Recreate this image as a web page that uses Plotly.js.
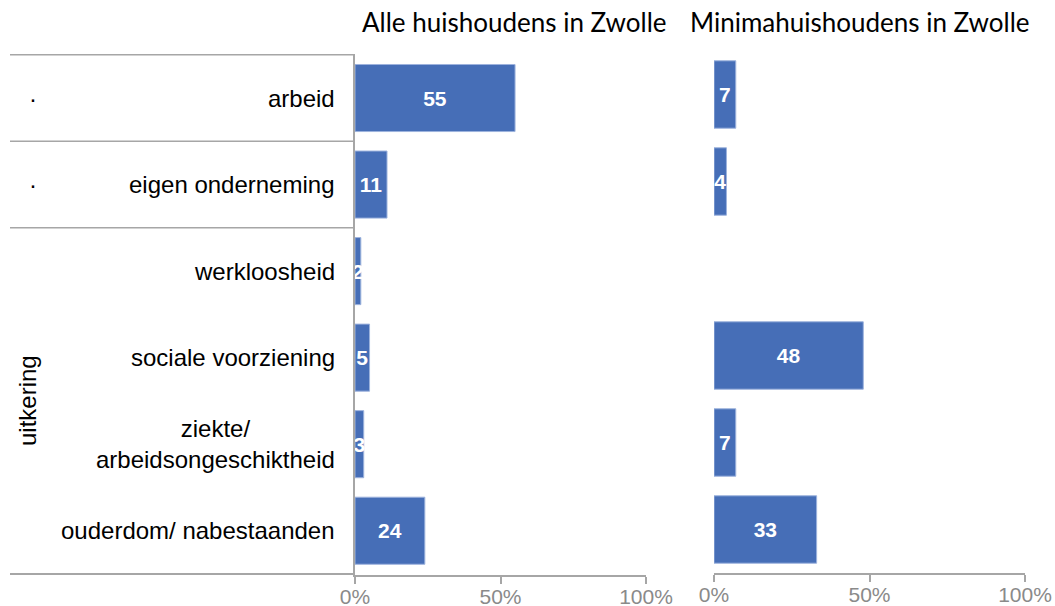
<!DOCTYPE html>
<html>
<head>
<meta charset="utf-8">
<script src="https://cdn.plot.ly/plotly-3.0.1.min.js"></script>
<style>html,body{margin:0;padding:0;background:#fff;}#chart{width:1055px;height:606px;}</style>
</head>
<body>
<div id="chart"></div>
<script>
var categories = ["arbeid", "eigen onderneming", "werkloosheid", "sociale voorziening", "ziekte/ arbeidsongeschiktheid", "ouderdom/ nabestaanden"];
var categoryLabels = ["arbeid", "eigen onderneming", "werkloosheid", "sociale voorziening", "ziekte/<br>arbeidsongeschiktheid", "ouderdom/ nabestaanden"];
var groupLabels = ["·", "·", "uitkering"];
var alleHuishoudens = [55, 11, 2, 5, 3, 24];
var minimaHuishoudens = [7, 4, null, 48, 7, 33];
var panelTitles = ["Alle huishoudens in Zwolle", "Minimahuishoudens in Zwolle"];
var tickVals = [0, 50, 100];
var tickText = ["0%", "50%", "100%"];

var W = 1055, H = 606;
function px(x) { return x / W; }
function py(y) { return 1 - y / H; }

var barColor = "#466EB7";
var lineColor = "#A6A6A6";

var labelFont = {family: "Liberation Sans, Arial, sans-serif", size: 24, color: "#000"};
var valueFont = {family: "Liberation Sans, Arial, sans-serif", size: 21, color: "#fff", weight: "bold"};

function txt(arr) { return arr.map(function (v) { return v === null ? "" : "<b>" + v + "</b>"; }); }

var traces = [
  {
    type: "bar", orientation: "h", x: alleHuishoudens, y: categories,
    xaxis: "x", yaxis: "y", marker: {color: barColor, line: {color: "#9DB3DD", width: 1}},
    text: txt(alleHuishoudens), textposition: "inside", insidetextanchor: "middle",
    constraintext: "none", textfont: valueFont, hoverinfo: "x+y"
  },
  {
    type: "bar", orientation: "h", x: minimaHuishoudens, y: categories,
    xaxis: "x2", yaxis: "y2", marker: {color: barColor, line: {color: "#9DB3DD", width: 1}},
    text: txt(minimaHuishoudens), textposition: "inside", insidetextanchor: "middle",
    constraintext: "none", textfont: valueFont, hoverinfo: "x+y"
  }
];

var xaxisCommon = {
  range: [0, 100], tickvals: tickVals, ticktext: tickText,
  showgrid: false, zeroline: false, showline: true, linecolor: lineColor, linewidth: 2,
  ticks: "outside", ticklen: 7, tickcolor: lineColor, tickwidth: 2,
  ticklabelstandoff: -5,
  tickfont: {family: "Liberation Sans, Arial, sans-serif", size: 21, color: "#8A8A8A"},
  fixedrange: true
};

var layout = {
  width: W, height: H,
  margin: {l: 0, r: 0, t: 0, b: 0},
  paper_bgcolor: "#fff", plot_bgcolor: "rgba(0,0,0,0)",
  showlegend: false,
  bargap: 0.225,
  xaxis: Object.assign({}, xaxisCommon, {domain: [px(355), px(646)], anchor: "y"}),
  xaxis2: Object.assign({}, xaxisCommon, {domain: [px(714), px(1025)], anchor: "y2"}),
  yaxis: {
    domain: [py(575), py(54)], anchor: "x", autorange: "reversed",
    showticklabels: false, ticks: "", showgrid: false, zeroline: false,
    showline: true, linecolor: lineColor, linewidth: 2, fixedrange: true
  },
  yaxis2: {
    domain: [py(573), py(51)], anchor: "x2", autorange: "reversed",
    showticklabels: false, ticks: "", showgrid: false, zeroline: false,
    showline: false, fixedrange: true
  },
  shapes: [
    {type: "line", xref: "paper", yref: "y", x0: px(10), x1: px(355), y0: -0.5, y1: -0.5, line: {color: lineColor, width: 1.5}},
    {type: "line", xref: "paper", yref: "y", x0: px(10), x1: px(355), y0: 0.5, y1: 0.5, line: {color: lineColor, width: 1.5}},
    {type: "line", xref: "paper", yref: "y", x0: px(10), x1: px(355), y0: 1.5, y1: 1.5, line: {color: lineColor, width: 1.5}},
    {type: "line", xref: "paper", yref: "y", x0: px(10), x1: px(355), y0: 5.5, y1: 5.5, line: {color: lineColor, width: 2}}
  ],
  annotations: []
};

categories.forEach(function (c, i) {
  layout.annotations.push({
    xref: "paper", yref: "y", x: px(337), y: c, xanchor: "right", yanchor: "middle",
    text: categoryLabels[i], align: "center", showarrow: false, font: labelFont
  });
});
layout.annotations.push({xref: "paper", yref: "y", x: px(33), y: categories[0], xanchor: "center", yanchor: "middle", text: groupLabels[0], showarrow: false, font: labelFont});
layout.annotations.push({xref: "paper", yref: "y", x: px(33), y: categories[1], xanchor: "center", yanchor: "middle", text: groupLabels[1], showarrow: false, font: labelFont});
layout.annotations.push({xref: "paper", yref: "paper", x: px(27), y: py(401), xanchor: "center", yanchor: "middle", text: groupLabels[2], textangle: -90, showarrow: false, font: labelFont});

var titleFont = {family: "Lato, Open Sans, sans-serif", size: 26, color: "#000"};
layout.annotations.push({xref: "paper", yref: "paper", x: px(514), y: py(22), xanchor: "center", yanchor: "middle", text: panelTitles[0], showarrow: false, font: titleFont});
layout.annotations.push({xref: "paper", yref: "paper", x: px(860), y: py(22), xanchor: "center", yanchor: "middle", text: panelTitles[1], showarrow: false, font: titleFont});

Plotly.newPlot("chart", traces, layout, {displayModeBar: false, staticPlot: true});
</script>
</body>
</html>
